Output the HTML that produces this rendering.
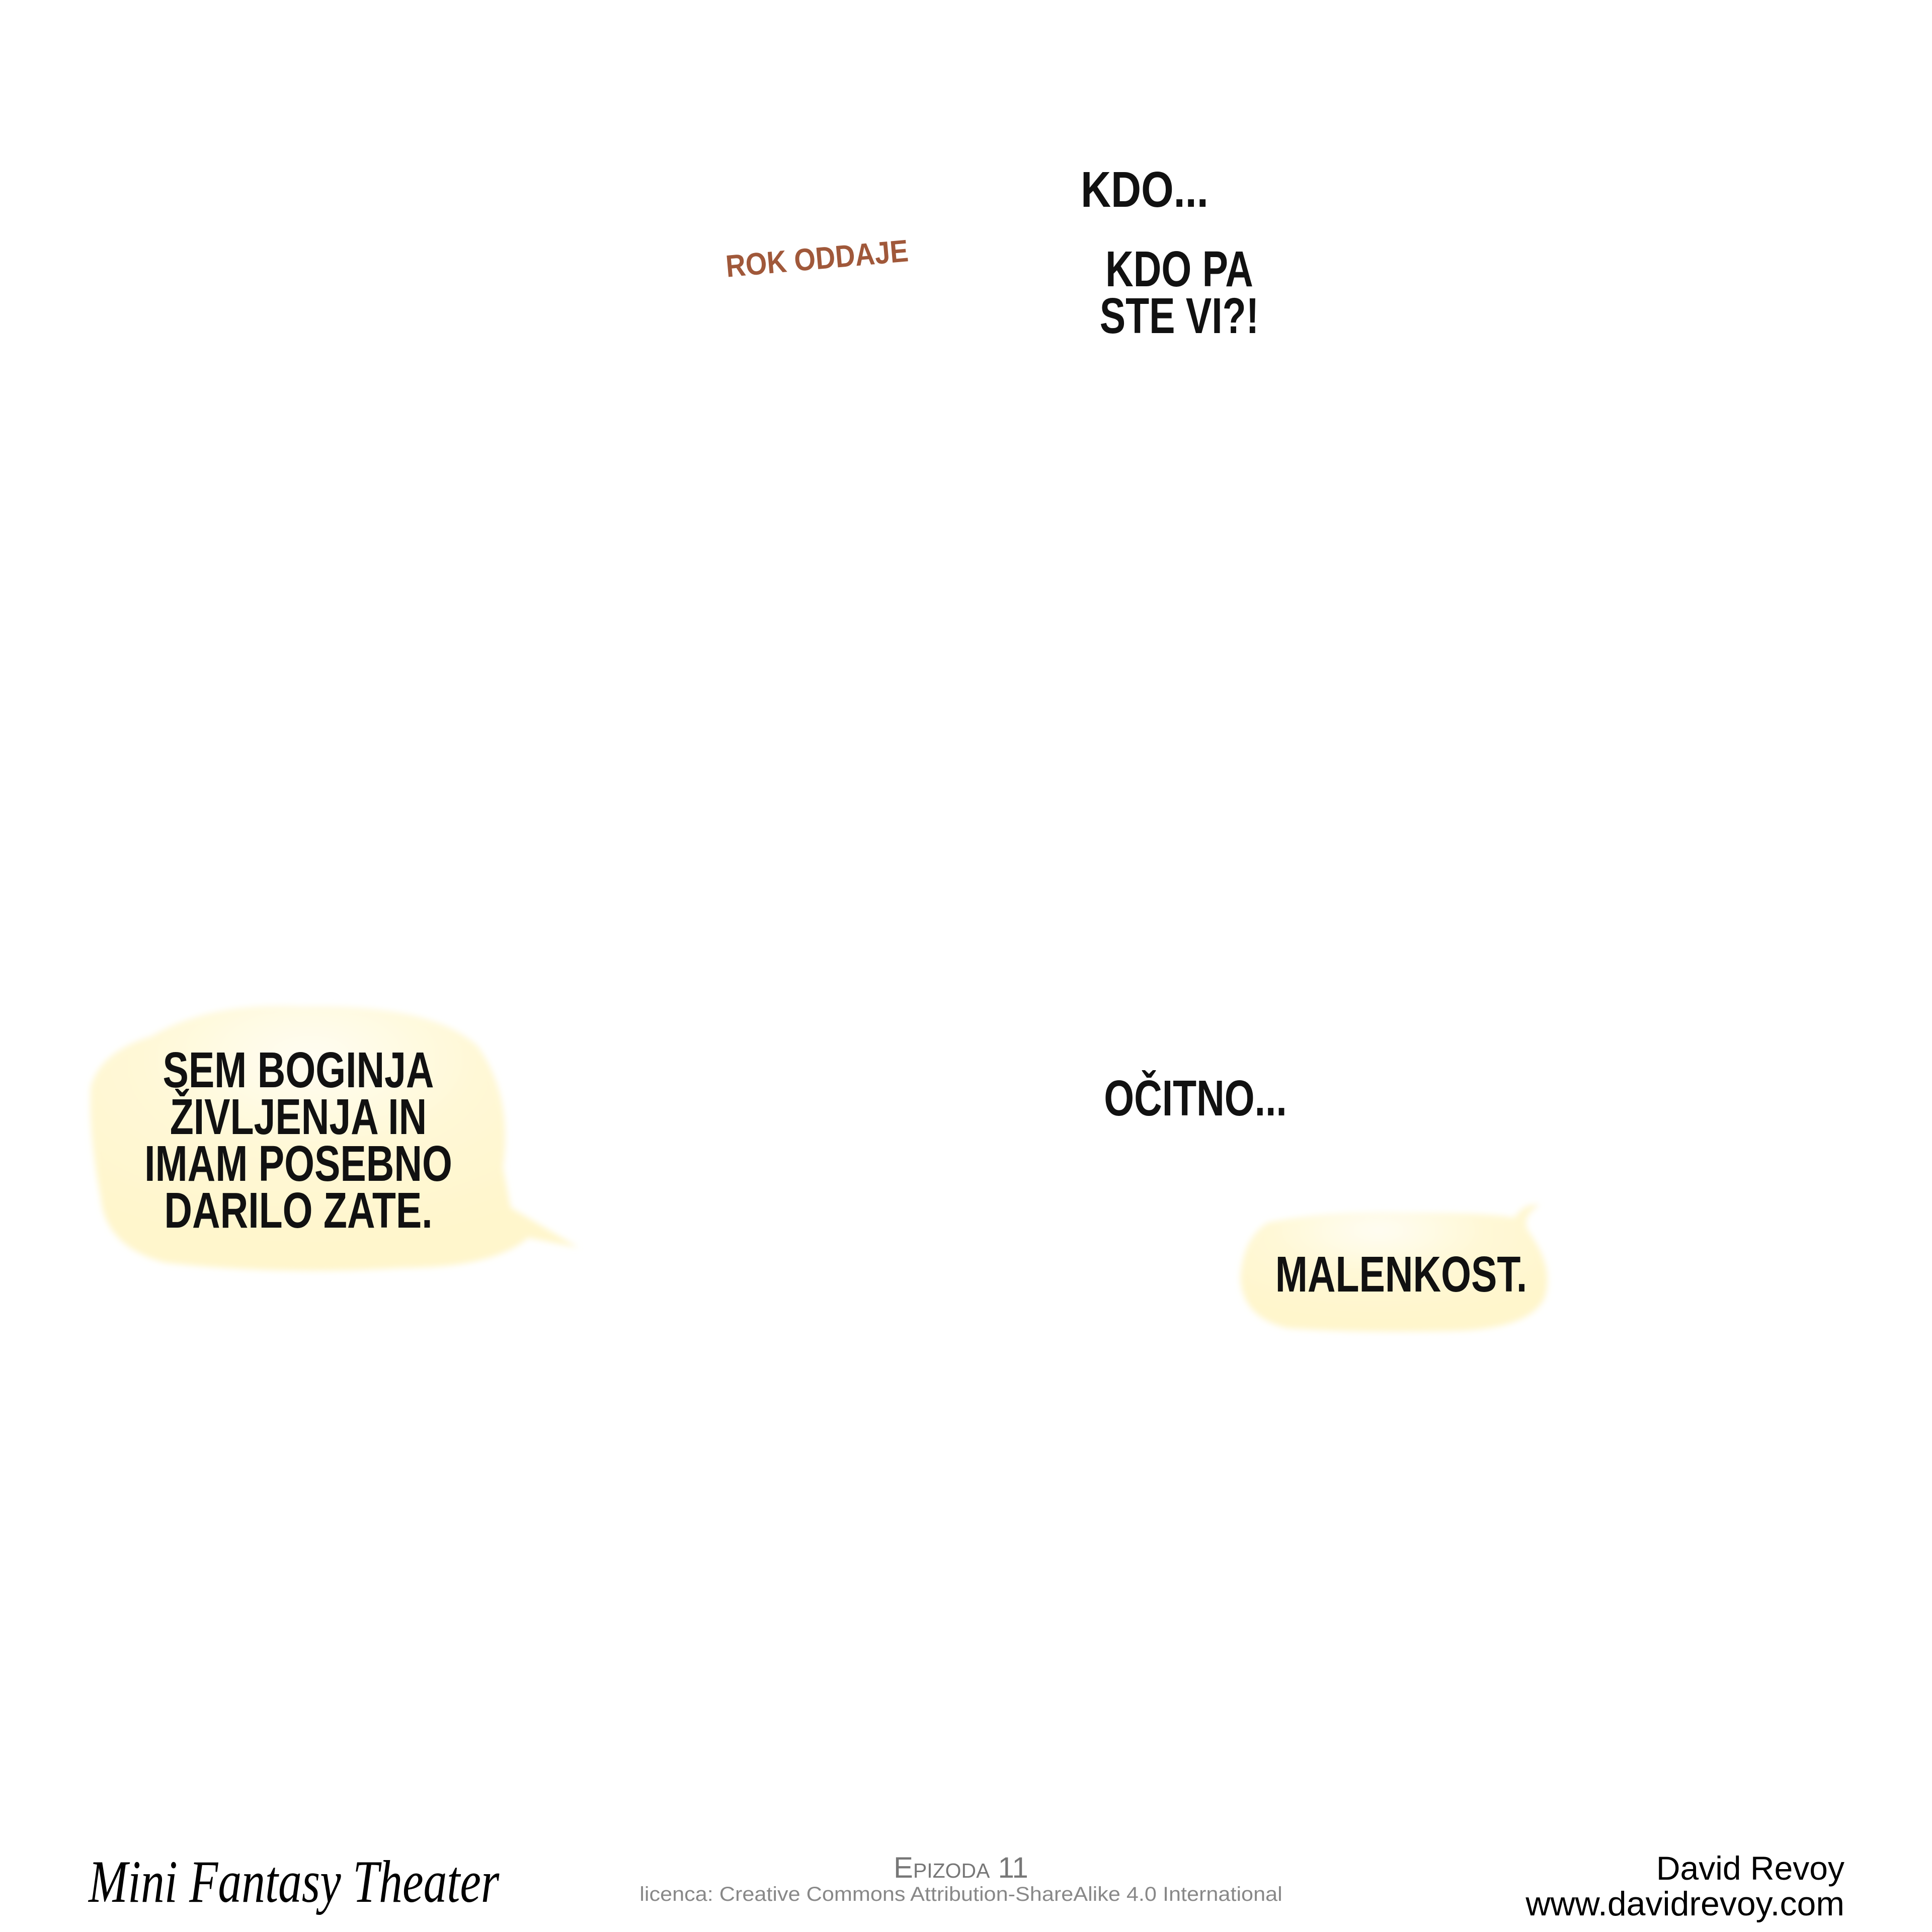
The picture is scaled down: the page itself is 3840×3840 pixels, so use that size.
<!DOCTYPE html>
<html><head><meta charset="utf-8"><style>
html,body{margin:0;padding:0;background:#fff;}
body{width:3840px;height:3840px;position:relative;overflow:hidden;font-family:"Liberation Sans",sans-serif;}
.c{position:absolute;white-space:nowrap;line-height:1;font-weight:bold;color:#111;font-size:100px;transform:translateX(-50%) scaleX(0.77);transform-origin:center top;}
.f{position:absolute;white-space:nowrap;line-height:1;}
</style></head><body>
<svg width="3840" height="3840" style="position:absolute;left:0;top:0">
<defs>
<filter id="b" x="-10%" y="-10%" width="120%" height="120%"><feGaussianBlur stdDeviation="6"/></filter>
<radialGradient id="g" cx="0.45" cy="0.2" r="0.7"><stop offset="0" stop-color="#fffdf2"/><stop offset="0.5" stop-color="#fff8d6"/><stop offset="1" stop-color="#fff6cc"/></radialGradient>
</defs>
<g filter="url(#b)" fill="url(#g)">
<path d="M300 2060 Q420 1990 600 2000 Q860 1995 950 2080 Q1020 2180 1000 2320 L1015 2400 L1150 2480 L1050 2460 Q980 2520 800 2520 Q560 2535 330 2510 Q210 2480 200 2380 Q175 2250 180 2160 Q200 2090 300 2060 Z"/>
<path d="M2520 2430 Q2640 2405 2800 2410 Q2950 2410 3010 2420 Q3030 2390 3060 2395 Q3020 2420 3040 2450 Q3090 2520 3070 2580 Q3040 2640 2900 2645 Q2700 2650 2560 2640 Q2470 2620 2465 2540 Q2470 2460 2520 2430 Z"/>
</g>
</svg>

<div class="c" style="left:2275px;top:327px;transform:translateX(-50%) scaleX(0.83)">KDO...</div>
<div class="f" style="left:1440px;top:500px;font-size:62px;font-weight:bold;color:#a0583a;transform:rotate(-5deg) scaleX(0.88);transform-origin:left top;">ROK ODDAJE</div>
<div class="c" style="left:2344px;top:485px;">KDO PA</div>
<div class="c" style="left:2344px;top:578px;">STE VI?!</div>

<div class="c" style="left:593px;top:2077px;">SEM BOGINJA</div>
<div class="c" style="left:593px;top:2170px;">ŽIVLJENJA IN</div>
<div class="c" style="left:593px;top:2263px;">IMAM POSEBNO</div>
<div class="c" style="left:593px;top:2356px;">DARILO ZATE.</div>

<div class="c" style="left:2376px;top:2133px;">OČITNO...</div>
<div class="c" style="left:2785px;top:2483px;">MALENKOST.</div>

<div class="f" style="left:176px;top:3680px;font-family:'Liberation Serif',serif;font-style:italic;font-size:120px;color:#000;transform:scaleX(0.78);transform-origin:left top;">Mini Fantasy Theater</div>
<div class="f" style="left:1910px;top:3684px;transform:translateX(-50%);font-size:58px;color:#777;font-variant:small-caps;">Epizoda 11</div>
<div class="f" style="left:1910px;top:3745px;transform:translateX(-50%) scaleX(1.08);font-size:40px;color:#888;">licenca: Creative Commons Attribution-ShareAlike 4.0 International</div>
<div class="f" style="right:174px;top:3680px;font-size:66px;color:#000;text-align:right;">David Revoy</div>
<div class="f" style="right:174px;top:3750px;font-size:68px;color:#000;text-align:right;">www.davidrevoy.com</div>
</body></html>
